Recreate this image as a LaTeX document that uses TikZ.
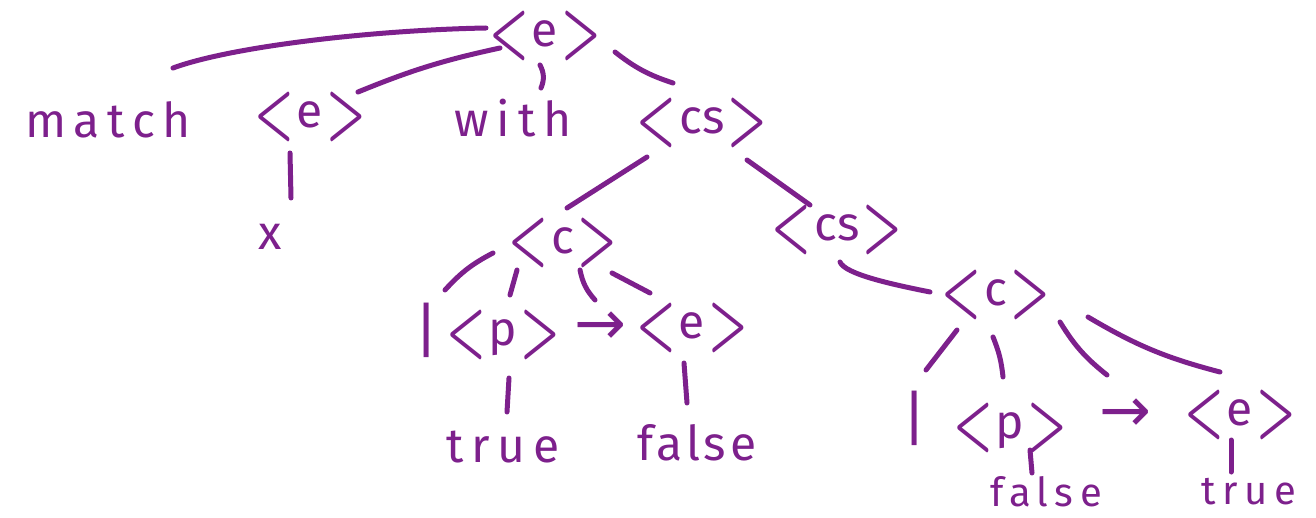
\documentclass[tikz,border=0pt]{standalone}
\usepackage{fontspec}
\usepackage{graphicx}
\setmainfont{Fira Sans}
\newfontfamily\arrowfont{DejaVu Sans}
\newfontfamily\wordfont[LetterSpace=16]{Fira Sans}
\newfontfamily\wordfontb[LetterSpace=8]{Fira Sans}
\definecolor{ink}{RGB}{125,32,140}
\newcommand\bigbr[1]{\raisebox{-8pt}{\scalebox{0.6}[1]{\sffamily\bfseries\fontsize{74}{74}\selectfont #1}}}
\newcommand\ntm[1]{\bigbr{<}\hspace{3pt}#1\hspace{3pt}\bigbr{>}}
\tikzset{
  tok/.style={text=ink, inner sep=0pt, font=\fontsize{48}{48}\selectfont},
  word/.style={tok, font=\wordfont\fontsize{48}{48}\selectfont},
  wordb/.style={tok, font=\wordfontb\fontsize{48}{48}\selectfont},
  sm/.style={tok, font=\wordfont\fontsize{40}{40}\selectfont},
  arr/.style={tok, font=\arrowfont\fontsize{62}{62}\selectfont},
  bar/.style={tok, font=\fontsize{60}{60}\selectfont},
  edge/.style={draw=ink, line width=5pt, line cap=round}
}
\begin{document}
\begin{tikzpicture}[x=1pt,y=-1pt]
\useasboundingbox (0,0) rectangle (1316,518);
% nodes
\node[tok] (root) at (545,36) {\ntm{e}};
\node[word] (match) at (108,120) {match};
\node[tok] (e2) at (310,117) {\ntm{e}};
\node[word] (with) at (513,118) {with};
\node[tok] (cs1) at (702,123) {\ntm{cs}};
\node[tok] (x) at (270,237) {x};
\node[tok] (c1) at (563,243) {\ntm{c}};
\node[tok] (cs2) at (837,230) {\ntm{cs}};
\node[bar] (bar1) at (427,330) {|};
\node[tok] (p1) at (503,335) {\ntm{p}};
\node[arr] (arr1) at (600,328) {→};
\node[tok] (e3) at (692,328) {\ntm{e}};
\node[word] (true1) at (503,447) {true};
\node[wordb] (false1) at (697,443) {false};
\node[tok] (c2) at (996,295) {\ntm{c}};
\node[bar] (bar2) at (915,418) {|};
\node[tok] (p2) at (1010,428) {\ntm{p}};
\node[arr] (arr2) at (1125,415) {→};
\node[tok] (e4) at (1240,415) {\ntm{e}};
\node[sm] (false2) at (1046,492) {false};
\node[sm] (true2) at (1249,492) {true};
% connectors
\draw[edge] ([shift={(-59,-8)}]root.center) .. controls +(-110,2) and +(60,-22) .. ([shift={(65,-52)}]match.center);
\draw[edge] ([shift={(-45,12)}]root.center) to[bend right=5] ([shift={(48,-25)}]e2.center);
\draw[edge] ([shift={(-5,29)}]root.center) to[bend left=25] ([shift={(28,-30)}]with.center);
\draw[edge] ([shift={(70,16)}]root.center) to[bend right=10] ([shift={(-29,-40)}]cs1.center);
\draw[edge] ([shift={(-20,36)}]e2.center) -- ([shift={(21,-39)}]x.center);
\draw[edge] ([shift={(-55,34)}]cs1.center) -- ([shift={(4,-35)}]c1.center);
\draw[edge] ([shift={(45,37)}]cs1.center) -- ([shift={(-27,-25)}]cs2.center);
\draw[edge] ([shift={(-70,10)}]c1.center) to[bend right=10] ([shift={(18,-40)}]bar1.center);
\draw[edge] ([shift={(-46,27)}]c1.center) -- ([shift={(7,-40)}]p1.center);
\draw[edge] ([shift={(17,27)}]c1.center) to[bend right=15] ([shift={(-5,-28)}]arr1.center);
\draw[edge] ([shift={(49,30)}]c1.center) -- ([shift={(-42,-35)}]e3.center);
\draw[edge] ([shift={(6,43)}]p1.center) -- ([shift={(4,-35)}]true1.center);
\draw[edge] ([shift={(-8,35)}]e3.center) -- ([shift={(-10,-40)}]false1.center);
\draw[edge] ([shift={(3,32)}]cs2.center) .. controls +(5,12) and +(-40,-8) .. ([shift={(-66,-3)}]c2.center);
\draw[edge] ([shift={(-39,35)}]c2.center) -- ([shift={(11,-48)}]bar2.center);
\draw[edge] ([shift={(-3,42)}]c2.center) to[bend left=8] ([shift={(-7,-51)}]p2.center);
\draw[edge] ([shift={(64,27)}]c2.center) to[bend right=10] ([shift={(-18,-40)}]arr2.center);
\draw[edge] ([shift={(92,22)}]c2.center) to[bend right=8] ([shift={(-20,-43)}]e4.center);
\draw[edge] ([shift={(20,22)}]p2.center) -- ([shift={(-14,-19)}]false2.center);
\draw[edge] ([shift={(-9,25)}]e4.center) -- ([shift={(-18,-20)}]true2.center);
\end{tikzpicture}
\end{document}
